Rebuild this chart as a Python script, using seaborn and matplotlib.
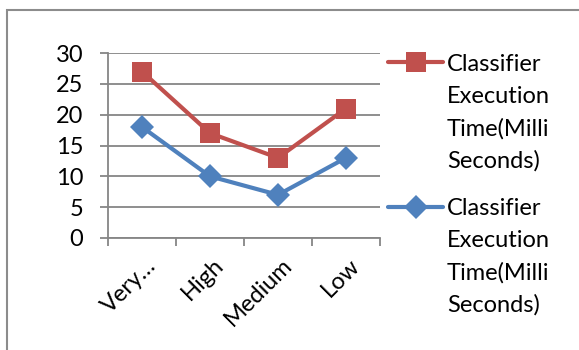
import matplotlib
matplotlib.use("Agg")
import matplotlib.pyplot as plt
from matplotlib.lines import Line2D
from matplotlib.patches import Rectangle
from matplotlib.ticker import FixedLocator
from matplotlib.transforms import ScaledTranslation
import seaborn as sns
import pandas as pd

# Data
levels = ["Very\u2026", "High", "Medium", "Low"]
red_series = [27, 17, 13, 21]
blue_series = [18, 10, 7, 13]
series_label = "Classifier\nExecution\nTime(Milli\nSeconds)"
y_ticks = [0, 5, 10, 15, 20, 25, 30]

RED = "#C0504D"
BLUE = "#4F81BD"
GRID = "#868686"
FONT = "Lato"
FS = 17
DIAMOND = 12.5

sns.set_theme(style="white")
plt.rcParams["font.family"] = [FONT, "DejaVu Sans"]

W, H = 579, 350
DPI = 100
fig = plt.figure(figsize=(W / DPI, H / DPI), dpi=DPI)

def px(x, y):
    return x / W, 1 - y / H

# plot area in pixels
L, R, T, B = 108, 380, 53, 238
ax = fig.add_axes([L / W, 1 - B / H, (R - L) / W, (B - T) / H])

df = pd.DataFrame({"level": levels, "red": red_series, "blue": blue_series})

sns.lineplot(data=df, x="level", y="red", ax=ax, color=RED, lw=3,
             marker="s", markersize=15, markeredgewidth=0, sort=False)
sns.lineplot(data=df, x="level", y="blue", ax=ax, color=BLUE, lw=3,
             marker="D", markersize=DIAMOND, markeredgewidth=0, sort=False)

ax.set_xlim(-0.5, len(levels) - 0.5)
ax.set_ylim(0, 30)
ax.set_xlabel("")
ax.set_ylabel("")

# grid and spines
ax.set_yticks(y_ticks)
ax.yaxis.grid(True, color=GRID, lw=1.3)
ax.xaxis.grid(False)
for s in ["top", "right"]:
    ax.spines[s].set_visible(False)
for s in ["left", "bottom"]:
    ax.spines[s].set_color(GRID)
    ax.spines[s].set_linewidth(1.3)

ax.tick_params(axis="y", direction="out", length=5.8, width=1.3, color=GRID,
               pad=12, labelsize=FS, labelcolor="black", left=True)
ax.set_yticklabels([str(v) for v in y_ticks], fontfamily=FONT)

ax.set_xticks(range(len(levels)))
ax.xaxis.set_minor_locator(FixedLocator([i - 0.5 for i in range(len(levels) + 1)]))
ax.tick_params(axis="x", which="major", length=0, pad=12, labelsize=FS,
               labelcolor="black")
ax.tick_params(axis="x", which="minor", direction="out", length=5.8, width=1.3,
               color=GRID, bottom=True)
ax.set_xticklabels(levels, rotation=45, ha="right", va="top",
                   rotation_mode="anchor", fontfamily=FONT)
for lab in ax.get_xticklabels():
    lab.set_transform(lab.get_transform() + ScaledTranslation(3 / DPI, 0, fig.dpi_scale_trans))

# outer chart frame
fig.patches.append(Rectangle(px(7, 400), (W + 20) / W, (400 - 10) / H,
                             transform=fig.transFigure, fill=False,
                             edgecolor="#8c8c8c", lw=1.5))

# legend
entries = [(RED, "s", 15, 62, 70.7), (BLUE, "D", DIAMOND, 207, 215)]
for color, mk, ms, ly, base in entries:
    x0, y0 = px(388, ly)
    x1, _ = px(443, ly)
    fig.add_artist(Line2D([x0, x1], [y0, y0], color=color, lw=3,
                          transform=fig.transFigure))
    xm, _ = px(415.5, ly)
    fig.add_artist(Line2D([xm], [y0], color=color, marker=mk, markersize=ms,
                          markeredgewidth=0, transform=fig.transFigure))
    for i, line in enumerate(series_label.split("\n")):
        tx, ty = px(447, base + i * 32.3)
        fig.text(tx, ty, line, fontsize=FS, va="baseline", ha="left",
                 color="black", fontfamily=FONT)

fig.savefig("out.png", dpi=DPI, facecolor="white")
